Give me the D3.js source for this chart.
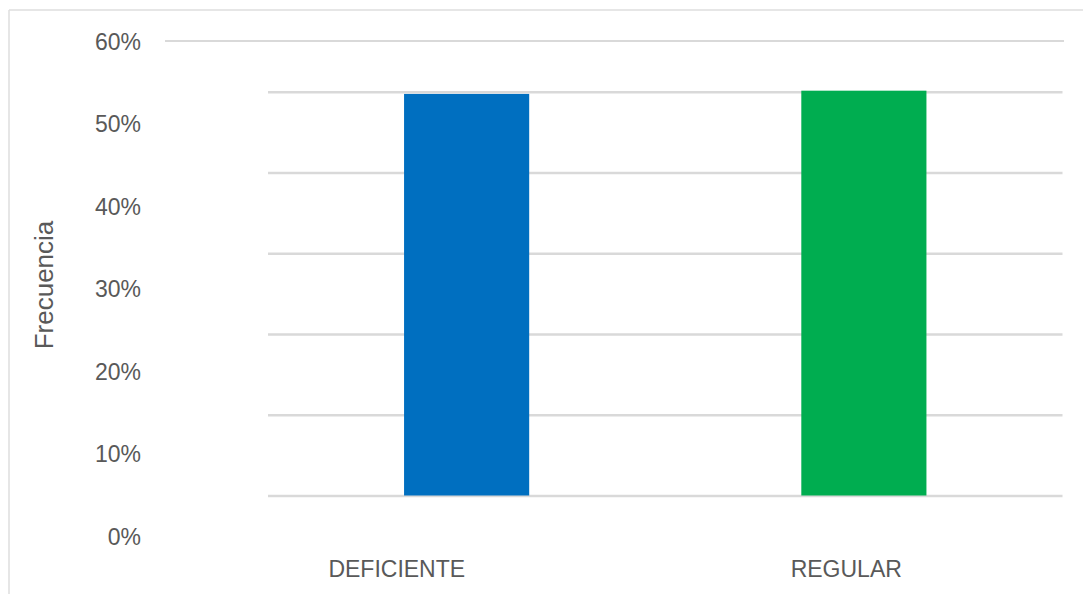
<!DOCTYPE html>
<html>
<head>
<meta charset="utf-8">
<script src="https://cdn.jsdelivr.net/npm/d3@7"></script>
<style>
  html, body { margin: 0; padding: 0; background: #ffffff; }
  svg { display: block; }
  text { font-family: "Liberation Sans", Arial, sans-serif; fill: #595959; }
</style>
</head>
<body>
<svg id="chart" width="1083" height="594"></svg>
<script>
// Categories and their share of responses
const categories = ["DEFICIENTE", "REGULAR"];
const frequencies = [0.498, 0.502];
const barColors = ["#006fc0", "#00ad50"];

// Axis tick values (percent)
const axisTicks = [0, 0.1, 0.2, 0.3, 0.4, 0.5, 0.6];
const gridTicks = [0, 0.1, 0.2, 0.3, 0.4, 0.5];

const svg = d3.select("#chart");

// Outer chart border (top and left edges)
svg.append("line")
  .attr("x1", 9).attr("x2", 1083).attr("y1", 10).attr("y2", 10)
  .attr("stroke", "#dedede").attr("stroke-width", 1.5);
svg.append("line")
  .attr("x1", 9).attr("x2", 9).attr("y1", 10).attr("y2", 594)
  .attr("stroke", "#dedede").attr("stroke-width", 1.5);

// Scales
const yAxisScale = d3.scaleLinear().domain([0, 0.6]).range([537, 42]);
const yPlot = d3.scaleLinear().domain([0, 0.5]).range([496, 92.3]);

const xPlot = d3.scaleBand()
  .domain(categories)
  .range([268, 1062.5])
  .paddingInner(0.685)
  .paddingOuter(0.3425);

const xLabels = d3.scaleBand()
  .domain(categories)
  .range([172, 1071]);

const fmt = d3.format(".0%");

// Top frame line of the value axis
svg.append("line")
  .attr("x1", 165).attr("x2", 1064)
  .attr("y1", yAxisScale(0.6) - 1).attr("y2", yAxisScale(0.6) - 1)
  .attr("stroke", "#d9d9d9").attr("stroke-width", 2);

// Horizontal gridlines of the plot area
svg.append("g")
  .selectAll("line")
  .data(gridTicks)
  .join("line")
  .attr("x1", 268).attr("x2", 1062.5)
  .attr("y1", d => yPlot(d)).attr("y2", d => yPlot(d))
  .attr("stroke", "#d9d9d9").attr("stroke-width", 2.5);

// Value axis labels
const yAxis = d3.axisLeft(yAxisScale)
  .tickValues(axisTicks)
  .tickFormat(fmt)
  .tickSize(0)
  .tickPadding(0);

const yAxisG = svg.append("g")
  .attr("transform", "translate(141,0)")
  .call(yAxis);
yAxisG.select(".domain").remove();
yAxisG.selectAll("text")
  .attr("font-size", 23)
  .attr("font-family", "Liberation Sans, Arial, sans-serif")
  .attr("fill", "#595959");

// Bars
svg.append("g")
  .selectAll("rect")
  .data(categories.map((c, i) => ({ c, v: frequencies[i], color: barColors[i] })))
  .join("rect")
  .attr("x", d => xPlot(d.c))
  .attr("width", xPlot.bandwidth())
  .attr("y", d => yPlot(d.v))
  .attr("height", d => yPlot(0) - 0.5 - yPlot(d.v))
  .attr("fill", d => d.color);

// Category axis labels
const xAxis = d3.axisBottom(xLabels).tickSize(0).tickPadding(0);
const xAxisG = svg.append("g")
  .attr("transform", "translate(0,561)")
  .call(xAxis);
xAxisG.select(".domain").remove();
xAxisG.selectAll("text")
  .attr("font-size", 23)
  .attr("font-family", "Liberation Sans, Arial, sans-serif")
  .attr("fill", "#595959");

// Axis title
svg.append("text")
  .attr("transform", "translate(53,285) rotate(-90)")
  .attr("text-anchor", "middle")
  .attr("font-size", 26)
  .text("Frecuencia");
</script>
</body>
</html>
